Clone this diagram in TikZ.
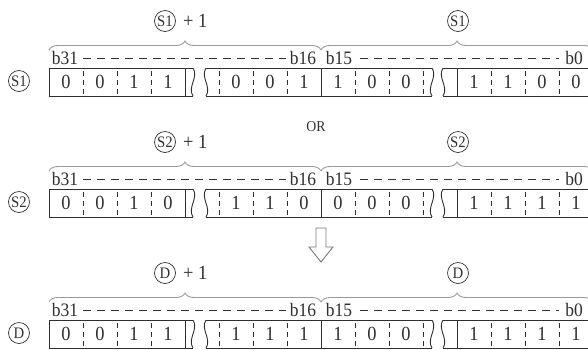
\documentclass[tikz,border=0pt]{standalone}
\usepackage{fontspec}
\setmainfont{Liberation Serif}[FakeStretch=0.92]
\usetikzlibrary{positioning,decorations.pathreplacing}

\definecolor{InkColor}{HTML}{2F2F2F}
\definecolor{FrameColor}{HTML}{2E2E2E}
\definecolor{BraceColor}{HTML}{9A9A9A}
\definecolor{ArrowColor}{HTML}{7A7A7A}

\tikzset{
  digit/.style={font=\fontsize{20}{20}\selectfont, text=InkColor, inner sep=0pt},
  bitlbl/.style={font=\fontsize{19}{19}\selectfont, text=InkColor, inner sep=0pt, anchor=base},
  devlbl/.style={circle, draw=InkColor, line width=0.7pt, minimum size=21pt,
                 inner sep=0pt, font=\fontsize{16}{16}\selectfont, text=InkColor},
  frame/.style={draw=FrameColor, line width=0.9pt},
  cellsep/.style={draw=FrameColor, line width=0.8pt, dash pattern=on 5pt off 4pt},
  bitdash/.style={draw=InkColor, line width=0.9pt, dash pattern=on 8pt off 6pt},
  wordbrace/.style={draw=BraceColor, line width=0.9pt,
                    decorate, decoration={brace, amplitude=9pt}}
}

\begin{document}
\begin{tikzpicture}[x=1pt, y=-1pt]
  % ===== Parámetros =====
  \def\boxh{28}
  \def\xL{49}    % borde izquierdo
  \def\xMid{321} % b16 | b15
  \def\xR{593}   % borde derecho (fuera de la página)

  \useasboundingbox (0,0) rectangle (588,349);

  % ===== Registros =====
  \foreach \yt/\reg/\nm/\bits in {
      68/S1/sa/{0,0,1,1,0,0,1,1,0,0,1,1,0,0},
      189/S2/sb/{0,0,1,0,1,1,0,0,0,0,1,1,1,1},
      320/D/dd/{0,0,1,1,1,1,1,1,0,0,1,1,1,1}}{
    \pgfmathsetmacro\yb{\yt+\boxh}

    % marcos
    \draw[frame] (193,\yt) -- (\xL,\yt) -- (\xL,\yb) -- (193,\yb);
    \draw[frame] (206,\yt) -- (432,\yt) (206,\yb) -- (432,\yb);
    \draw[frame] (443,\yt) -- (\xR,\yt) (443,\yb) -- (\xR,\yb);
    \foreach \x in {185,\xMid,457}
      \draw[frame] (\x,\yt) -- (\x,\yb);
    \foreach \w/\s in {193/1,206/-1,432/1,443/-1}
      \draw[frame] (\w,\yt) .. controls ({\w+6*\s},{\yt+9}) and ({\w-6*\s},{\yb-9}) .. (\w,\yb);
    \foreach \x in {83,117,151,219,253,287,355,389,423,491,525,559}
      \draw[cellsep] (\x,{\yt+3}) -- (\x,\yb);

    % bits
    \foreach \b [count=\i from 0] in \bits {
      \pgfmathsetmacro\xc{66+34*(\i+(\i>3)+(\i>9))}
      \node[digit] (\nm-c\i) at (\xc,{\yt+\boxh/2}) {\b};
    }

    % etiquetas de bits
    \node[bitlbl] (\nm-b31) at (65,{\yt-3.5}) {b31};
    \node[bitlbl] (\nm-b16) at (303,{\yt-3.5}) {b16};
    \node[bitlbl] (\nm-b15) at (339,{\yt-3.5}) {b15};
    \node[bitlbl] (\nm-b0)  at (574,{\yt-3.5}) {b0};
    \draw[bitdash, shorten <=5pt, shorten >=4pt] (\nm-b31) -- (\nm-b16);
    \draw[bitdash, shorten <=8pt, shorten >=6pt] (\nm-b15) -- (\nm-b0);

    % llaves
    \draw[wordbrace] (\xL,{\yt-18}) -- (\xMid,{\yt-18});
    \draw[wordbrace] (\xMid,{\yt-18}) -- (\xR,{\yt-18});

    % nombres
    \node[devlbl] (\nm-dev) at (19,{\yt+13}) {\reg};
    \node[devlbl] (\nm-hi) at (165,{\yt-47}) {\reg};
    \node[digit, right=7pt of \nm-hi] (\nm-plus) {+ 1};
    \node[devlbl] (\nm-lo) at (458,{\yt-47}) {\reg};
  }

  % ===== Operación =====
  \node[font=\fontsize{15}{15}\selectfont, text=InkColor, inner sep=0pt] (op) at (316,127) {OR};

  % ===== Flecha =====
  \draw[draw=ArrowColor, line width=0.9pt, line join=miter]
    (316,228) -- (326,228) -- (326,247) -- (333,247) -- (321,262)
    -- (309,247) -- (316,247) -- cycle;
\end{tikzpicture}
\end{document}
